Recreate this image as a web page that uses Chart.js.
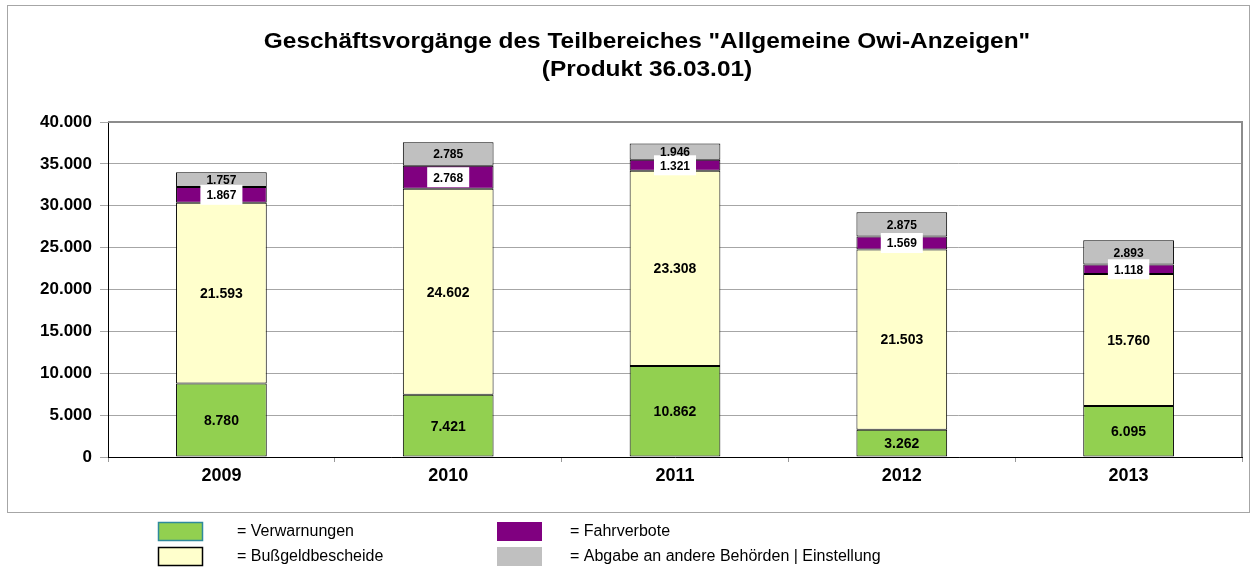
<!DOCTYPE html>
<html>
<head>
<meta charset="utf-8">
<script src="https://cdn.jsdelivr.net/npm/chart.js@4.4.0/dist/chart.umd.min.js"></script>
<style>
  html, body { margin: 0; padding: 0; background: #fff; }
  #wrap { width: 1252px; height: 569px; }
</style>
</head>
<body>
<div id="wrap"><canvas id="chart" width="1252" height="569"></canvas></div>
<script>
// data
const years = ['2009', '2010', '2011', '2012', '2013'];
const verwarnungen = [8780, 7421, 10862, 3262, 6095];
const bussgeldbescheide = [21593, 24602, 23308, 21503, 15760];
const fahrverbote = [1867, 2768, 1321, 1569, 1118];
const abgabe = [1757, 2785, 1946, 2875, 2893];

const titleLines = ['Geschäftsvorgänge des Teilbereiches "Allgemeine Owi-Anzeigen"', '(Produkt 36.03.01)'];
const legendNames = ['= Verwarnungen', '= Bußgeldbescheide', '= Fahrverbote', '= Abgabe an andere Behörden | Einstellung'];

const FONT = 'Arial, "Liberation Sans", sans-serif';

// 12345 -> 12.345
function fmt(v) {
    return String(v).replace(/\B(?=(\d{3})+(?!\d))/g, '.');
}

const extras = {
    id: 'extras',
    beforeDraw(chart) {
        const ctx = chart.ctx;
        ctx.save();
        ctx.fillStyle = '#fff';
        ctx.fillRect(0, 0, chart.width, chart.height);
        // outer frame
        ctx.strokeStyle = '#a6a6a6';
        ctx.lineWidth = 1;
        ctx.strokeRect(7.5, 5.5, 1242, 507);
        // title, a bit wider like the excel original
        ctx.fillStyle = '#000';
        ctx.font = 'bold 22px ' + FONT;
        ctx.textAlign = 'center';
        ctx.textBaseline = 'middle';
        ctx.translate(647, 0);
        ctx.scale(1.11, 1);
        ctx.fillText(titleLines[0], 0, 42);
        ctx.fillText(titleLines[1], 0, 70);
        ctx.restore();
    },
    afterDatasetsDraw(chart) {
        const ctx = chart.ctx;
        ctx.save();
        ctx.textAlign = 'center';
        ctx.textBaseline = 'middle';
        chart.data.datasets.forEach((ds, i) => {
            const meta = chart.getDatasetMeta(i);
            meta.data.forEach((bar, j) => {
                const txt = fmt(ds.data[j]);
                const cy = (bar.y + bar.base) / 2;
                ctx.font = 'bold ' + ds.labelSize + 'px ' + FONT;
                if (ds.labelBox) {
                    const w = ctx.measureText(txt).width + 12;
                    ctx.fillStyle = '#fff';
                    ctx.fillRect(bar.x - w / 2, cy - 10, w, 20);
                }
                ctx.fillStyle = '#000';
                ctx.fillText(txt, bar.x, cy + 1);
            });
        });
        ctx.restore();
    },
    afterDraw(chart) {
        const ctx = chart.ctx;
        const a = chart.chartArea;
        ctx.save();
        // top and right edge of plot area
        ctx.strokeStyle = '#8c8c8c';
        ctx.lineWidth = 2;
        ctx.beginPath();
        ctx.moveTo(a.left, a.top);
        ctx.lineTo(a.right, a.top);
        ctx.lineTo(a.right, a.bottom);
        ctx.stroke();

        // legend below the frame
        const ds = chart.data.datasets;
        const cols = [{ sx: 158, tx: 237 }, { sx: 497, tx: 570 }];
        const rows = [{ y: 522, h: 19 }, { y: 547, h: 19 }];
        ctx.font = '16px ' + FONT;
        ctx.textAlign = 'left';
        ctx.textBaseline = 'middle';
        ds.forEach((d, i) => {
            const c = cols[Math.floor(i / 2)];
            const r = rows[i % 2];
            ctx.fillStyle = d.backgroundColor;
            ctx.fillRect(c.sx, r.y, 45, r.h);
            if (d.legendBorder) {
                ctx.strokeStyle = d.legendBorder;
                ctx.lineWidth = 1.5;
                ctx.strokeRect(c.sx + 0.5, r.y + 0.5, 44, r.h - 1);
            }
            ctx.fillStyle = '#000';
            ctx.fillText(legendNames[i], c.tx, r.y + r.h / 2);
        });
        ctx.restore();
    }
};

const ctx = document.getElementById('chart').getContext('2d');
const chart = new Chart(ctx, {
    type: 'bar',
    data: {
        labels: years,
        datasets: [
            { label: 'Verwarnungen', data: verwarnungen, backgroundColor: '#92d050', labelSize: 14, legendBorder: '#2f8a9c' },
            { label: 'Bußgeldbescheide', data: bussgeldbescheide, backgroundColor: '#ffffcc', labelSize: 14, legendBorder: '#000' },
            { label: 'Fahrverbote', data: fahrverbote, backgroundColor: '#800080', labelSize: 12, labelBox: true },
            { label: 'Abgabe an andere Behörden | Einstellung', data: abgabe, backgroundColor: '#c0c0c0', labelSize: 12 }
        ].map(d => Object.assign(d, {
            borderColor: '#000',
            borderWidth: 1,
            borderSkipped: false,
            barPercentage: 0.4,
            categoryPercentage: 1.0
        }))
    },
    options: {
        responsive: false,
        animation: false,
        layout: { padding: { left: 8, right: 10, top: 122, bottom: 56 } },
        plugins: {
            legend: { display: false },
            title: { display: false },
            tooltip: { enabled: false }
        },
        scales: {
            x: {
                stacked: true,
                grid: { display: true, drawOnChartArea: false, tickLength: 5, color: '#999' },
                border: { color: '#000', width: 1 },
                ticks: { color: '#000', padding: 3, font: { family: FONT, size: 18, weight: 'bold' } },
                afterFit: s => { s.height = 56; }
            },
            y: {
                stacked: true,
                min: 0,
                max: 40000,
                grid: { color: '#a6a6a6', tickLength: 8 },
                border: { color: '#000', width: 1 },
                ticks: {
                    stepSize: 5000,
                    color: '#000',
                    padding: 8,
                    font: { family: FONT, size: 17, weight: 'bold' },
                    callback: v => fmt(v)
                },
                afterFit: s => { s.width = 100; }
            }
        }
    },
    plugins: [extras]
});
</script>
</body>
</html>
